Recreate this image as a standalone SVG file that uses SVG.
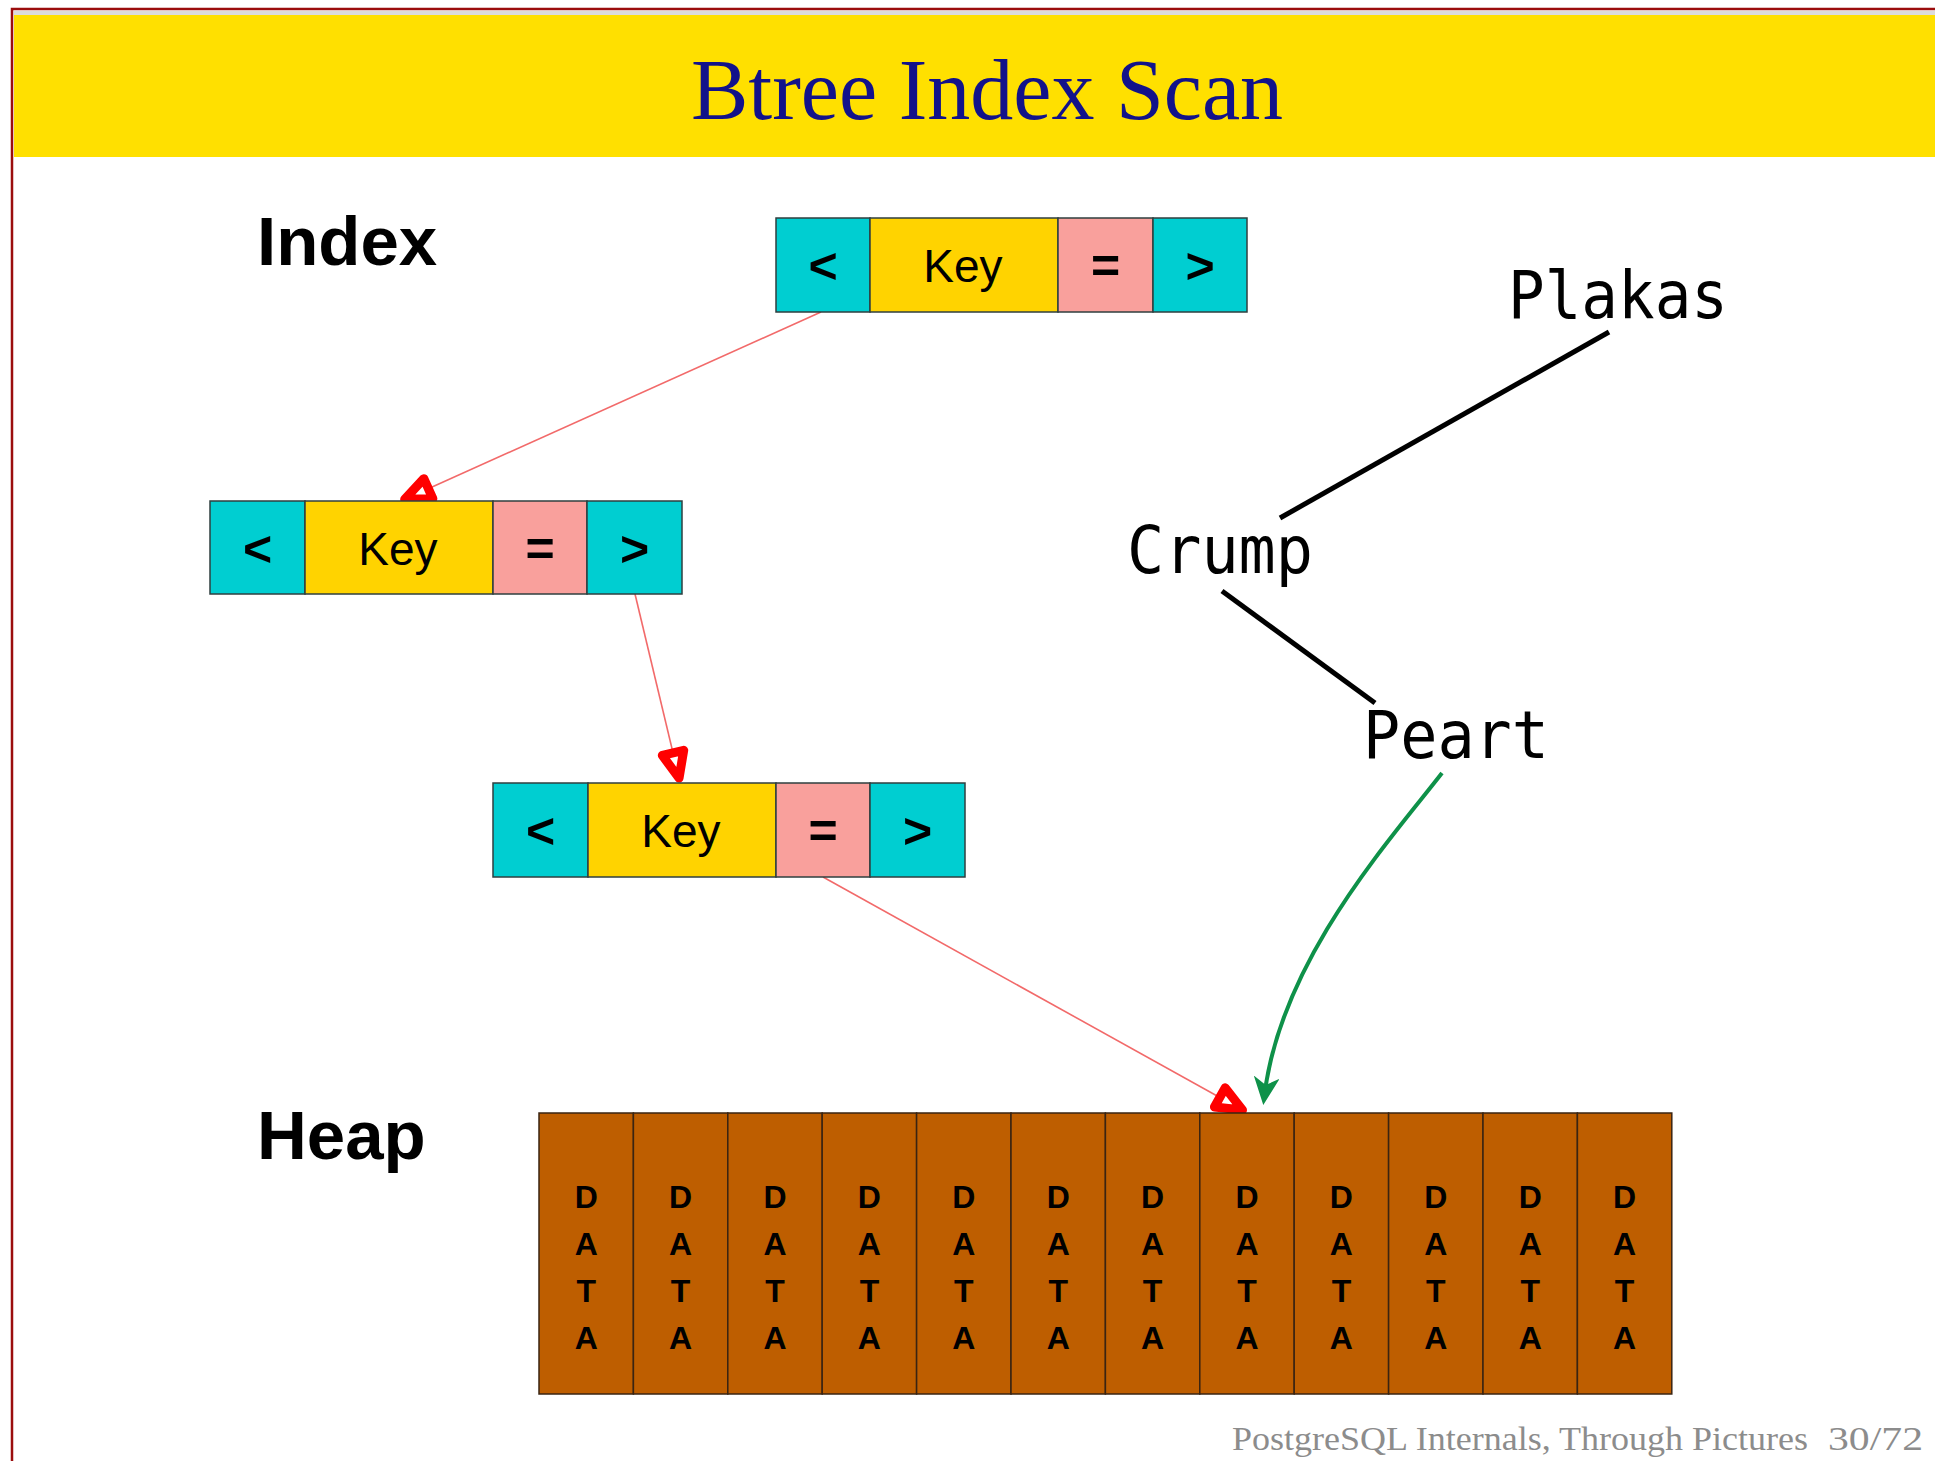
<svg xmlns="http://www.w3.org/2000/svg" width="1935" height="1461" viewBox="0 0 1935 1461">
<defs>
<style>
.lt{fill:#00CED1;stroke:#2f3f3f;stroke-width:1.5}
.key{fill:#FFD300;stroke:#2f3f3f;stroke-width:1.5}
.eq{fill:#F9A09C;stroke:#2f3f3f;stroke-width:1.5}
.sym{font-family:"Liberation Sans",Arial,sans-serif;font-weight:bold;font-size:50px;text-anchor:middle;fill:#000}
.kt{font-family:"Liberation Sans",Arial,sans-serif;font-size:46px;text-anchor:middle;fill:#000}
.lbl{font-family:"Liberation Sans",Arial,sans-serif;font-weight:bold;font-size:69px;fill:#000}
.mono{font-family:"DejaVu Sans Mono","Liberation Mono",monospace;font-size:66px;fill:#000}
.col{fill:#BE5E00;stroke:#3a2412;stroke-width:1.5}
.dt{font-family:"Liberation Sans",Arial,sans-serif;font-weight:bold;font-size:32px;text-anchor:middle;fill:#000}
.ptr{fill:none;stroke:#F26A6A;stroke-width:1.6;marker-end:url(#redhead)}
.tree{fill:none;stroke:#000;stroke-width:5}
</style>
<marker id="redhead" markerUnits="userSpaceOnUse" viewBox="-6 -6 46 42" markerWidth="46" markerHeight="42" refX="34" refY="15" orient="auto">
<path d="M4,4 L30,15 L4,26 Z" fill="#fff" stroke="#FF0000" stroke-width="9" stroke-linejoin="round"/>
</marker>
<marker id="greenhead" markerUnits="userSpaceOnUse" viewBox="0 0 30 28" markerWidth="30" markerHeight="28" refX="18" refY="13" orient="auto">
<path d="M0,0 L28,13 L0,26 L8,13 Z" fill="#0E9149"/>
</marker>
</defs>
<rect x="0" y="0" width="1935" height="1461" fill="#fff"/>
<g id="frame">
<rect x="12" y="9" width="1940" height="1470" fill="none" stroke="#9B0D0D" stroke-width="2.5"/>
<rect x="14" y="11" width="1921" height="4" fill="#dcdcdc"/>
<rect x="14" y="15" width="1921" height="142" fill="#FFE000"/>
<text x="987" y="119" font-family="'Liberation Serif','Times New Roman',serif" font-size="86" fill="#12128A" text-anchor="middle">Btree Index Scan</text>
</g>
<g id="connectors">
<line class="ptr" x1="821" y1="312" x2="401" y2="501"/>
<line class="ptr" x1="635" y1="594" x2="680" y2="782"/>
<line class="ptr" x1="823" y1="877" x2="1246" y2="1112"/>
<line class="tree" x1="1609" y1="332" x2="1280" y2="518"/>
<line class="tree" x1="1222" y1="591" x2="1375" y2="703"/>
<path d="M1442,773 C1390,840 1281,960 1264.5,1095" fill="none" stroke="#0E9149" stroke-width="4" marker-end="url(#greenhead)"/>
</g>
<g id="label-index"><text class="lbl" x="257" y="265">Index</text></g>
<g id="label-heap"><text class="lbl" x="257" y="1159">Heap</text></g>
<g id="node-root">
<rect class="lt" x="776" y="218" width="94" height="94"/>
<rect class="key" x="870" y="218" width="188" height="94"/>
<rect class="eq" x="1058" y="218" width="95" height="94"/>
<rect class="lt" x="1153" y="218" width="94" height="94"/>
<text class="sym" x="823" y="283">&lt;</text>
<text class="kt" x="963" y="282">Key</text>
<text class="sym" x="1105.5" y="283">=</text>
<text class="sym" x="1200" y="283">&gt;</text>
</g>
<g id="node-inner">
<rect class="lt" x="210" y="501" width="95" height="93"/>
<rect class="key" x="305" y="501" width="188" height="93"/>
<rect class="eq" x="493" y="501" width="94" height="93"/>
<rect class="lt" x="587" y="501" width="95" height="93"/>
<text class="sym" x="257.5" y="566">&lt;</text>
<text class="kt" x="398" y="565">Key</text>
<text class="sym" x="540" y="566">=</text>
<text class="sym" x="634.5" y="566">&gt;</text>
</g>
<g id="node-leaf">
<rect class="lt" x="493" y="783" width="95" height="94"/>
<rect class="key" x="588" y="783" width="188" height="94"/>
<rect class="eq" x="776" y="783" width="94" height="94"/>
<rect class="lt" x="870" y="783" width="95" height="94"/>
<text class="sym" x="540.5" y="848">&lt;</text>
<text class="kt" x="681" y="847">Key</text>
<text class="sym" x="823" y="848">=</text>
<text class="sym" x="917.5" y="848">&gt;</text>
</g>
<g id="node-plakas"><text class="mono" x="1508" y="318" textLength="220" lengthAdjust="spacingAndGlyphs">Plakas</text></g>
<g id="node-crump"><text class="mono" x="1127" y="573" textLength="186" lengthAdjust="spacingAndGlyphs">Crump</text></g>
<g id="node-peart"><text class="mono" x="1363" y="758" textLength="186" lengthAdjust="spacingAndGlyphs">Peart</text></g>
<g id="node-heap">
<rect class="col" x="539" y="1113" width="94.4" height="281"/>
<rect class="col" x="633.4" y="1113" width="94.4" height="281"/>
<rect class="col" x="727.8" y="1113" width="94.4" height="281"/>
<rect class="col" x="822.2" y="1113" width="94.4" height="281"/>
<rect class="col" x="916.6" y="1113" width="94.4" height="281"/>
<rect class="col" x="1011" y="1113" width="94.4" height="281"/>
<rect class="col" x="1105.4" y="1113" width="94.4" height="281"/>
<rect class="col" x="1199.8" y="1113" width="94.4" height="281"/>
<rect class="col" x="1294.2" y="1113" width="94.4" height="281"/>
<rect class="col" x="1388.6" y="1113" width="94.4" height="281"/>
<rect class="col" x="1483" y="1113" width="94.4" height="281"/>
<rect class="col" x="1577.4" y="1113" width="94.4" height="281"/>
<text class="dt"><tspan x="586.2" y="1208">D</tspan><tspan x="586.2" y="1255">A</tspan><tspan x="586.2" y="1302">T</tspan><tspan x="586.2" y="1349">A</tspan></text>
<text class="dt"><tspan x="680.6" y="1208">D</tspan><tspan x="680.6" y="1255">A</tspan><tspan x="680.6" y="1302">T</tspan><tspan x="680.6" y="1349">A</tspan></text>
<text class="dt"><tspan x="775" y="1208">D</tspan><tspan x="775" y="1255">A</tspan><tspan x="775" y="1302">T</tspan><tspan x="775" y="1349">A</tspan></text>
<text class="dt"><tspan x="869.4" y="1208">D</tspan><tspan x="869.4" y="1255">A</tspan><tspan x="869.4" y="1302">T</tspan><tspan x="869.4" y="1349">A</tspan></text>
<text class="dt"><tspan x="963.8" y="1208">D</tspan><tspan x="963.8" y="1255">A</tspan><tspan x="963.8" y="1302">T</tspan><tspan x="963.8" y="1349">A</tspan></text>
<text class="dt"><tspan x="1058.2" y="1208">D</tspan><tspan x="1058.2" y="1255">A</tspan><tspan x="1058.2" y="1302">T</tspan><tspan x="1058.2" y="1349">A</tspan></text>
<text class="dt"><tspan x="1152.6" y="1208">D</tspan><tspan x="1152.6" y="1255">A</tspan><tspan x="1152.6" y="1302">T</tspan><tspan x="1152.6" y="1349">A</tspan></text>
<text class="dt"><tspan x="1247" y="1208">D</tspan><tspan x="1247" y="1255">A</tspan><tspan x="1247" y="1302">T</tspan><tspan x="1247" y="1349">A</tspan></text>
<text class="dt"><tspan x="1341.4" y="1208">D</tspan><tspan x="1341.4" y="1255">A</tspan><tspan x="1341.4" y="1302">T</tspan><tspan x="1341.4" y="1349">A</tspan></text>
<text class="dt"><tspan x="1435.8" y="1208">D</tspan><tspan x="1435.8" y="1255">A</tspan><tspan x="1435.8" y="1302">T</tspan><tspan x="1435.8" y="1349">A</tspan></text>
<text class="dt"><tspan x="1530.2" y="1208">D</tspan><tspan x="1530.2" y="1255">A</tspan><tspan x="1530.2" y="1302">T</tspan><tspan x="1530.2" y="1349">A</tspan></text>
<text class="dt"><tspan x="1624.6" y="1208">D</tspan><tspan x="1624.6" y="1255">A</tspan><tspan x="1624.6" y="1302">T</tspan><tspan x="1624.6" y="1349">A</tspan></text>
</g>
<g id="footer" font-family="'Liberation Serif','Times New Roman',serif" font-size="34" fill="#8c8c8c">
<text x="1232" y="1450" textLength="576" lengthAdjust="spacingAndGlyphs">PostgreSQL Internals, Through Pictures</text>
<text x="1828" y="1450" textLength="95" lengthAdjust="spacingAndGlyphs">30/72</text>
</g>
</svg>
